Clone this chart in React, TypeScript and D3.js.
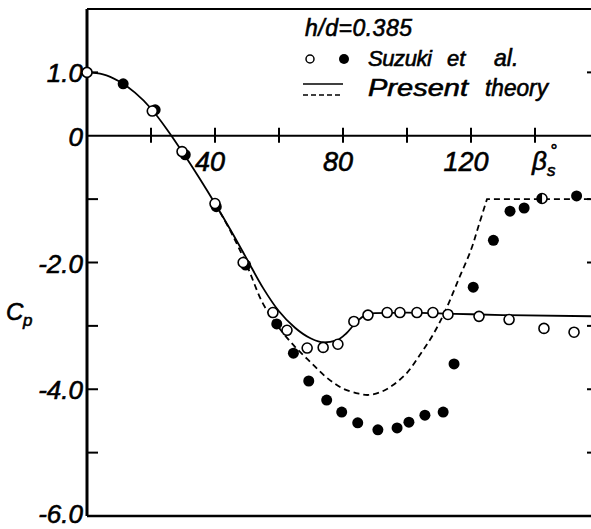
import React from "react";
import * as d3 from "d3";

const openPts: [number, number][] = [
  [0, 1.0], [20.4, 0.39], [29.7, -0.25], [40, -1.07], [48.8, -2.0], [58.1, -2.79],
  [62.5, -3.07], [68.8, -3.35], [73.8, -3.34], [78.4, -3.29], [83.4, -2.93],
  [87.8, -2.83], [93.8, -2.79], [97.8, -2.79], [103.1, -2.79], [108.1, -2.79],
  [112.8, -2.82], [122.5, -2.85], [131.9, -2.9], [142.8, -3.04], [152.2, -3.1],
];
const halfPts: [number, number][] = [[142.2, -0.99]];
const filledPts: [number, number][] = [
  [11.3, 0.82], [21.3, 0.41], [30.7, -0.3], [40.4, -1.12], [49.6, -2.04], [59.3, -2.97],
  [64.5, -3.43], [69.3, -3.87], [74.9, -4.17], [79.6, -4.36], [84.6, -4.53], [90.9, -4.64],
  [96.9, -4.61], [100.6, -4.52], [105.6, -4.41], [111.3, -4.36], [114.7, -3.6],
  [120.7, -2.39], [127, -1.65], [132.2, -1.19], [136.6, -1.14], [153, -0.95],
];
const theorySolid: [number, number][] = [
  [0, 1.0], [5, 0.97], [10, 0.86], [15, 0.68], [20, 0.43], [25, 0.1], [30, -0.27],
  [35, -0.66], [40, -1.07], [45, -1.5], [50, -1.95], [55, -2.4], [60, -2.77], [65, -3.03],
  [70, -3.2], [74, -3.26], [78, -3.23], [81, -3.12], [84, -2.95], [87, -2.83], [90, -2.8],
  [100, -2.79], [115, -2.81], [130, -2.83], [160, -2.85],
];
const theoryDashedCurve: [number, number][] = [
  [40, -1.07], [45, -1.52], [50, -2.05], [55, -2.65], [60, -3.03], [65, -3.33], [70, -3.58],
  [75, -3.82], [80, -3.99], [85, -4.07], [88, -4.09], [92, -4.04], [96, -3.92], [100, -3.74],
  [104, -3.46], [108, -3.15], [112, -2.76], [116, -2.28], [120, -1.8], [122.5, -1.4], [125, -1.0],
];
const theoryDashedFlat: [number, number][] = [[125, -1.0], [160, -1.0]];

const xTicks = [20, 40, 60, 80, 100, 120, 140, 160];
const xLabels: [number, string][] = [[40, "40"], [80, "80"], [120, "120"]];
const yTicks = [1, -1, -2, -3, -4, -5];
const yLabels: [number, string][] = [[1, "1.0"], [0, "0"], [-2, "-2.0"], [-4, "-4.0"], [-6, "-6.0"]];

export default function App() {
  const W = 591, H = 529;
  const x = d3.scaleLinear().domain([0, 160]).range([87, 599]);
  const y = d3.scaleLinear().domain([-6, 2]).range([516, 9]);
  const font = "'Liberation Sans', Arial, sans-serif";
  const lineS = d3.line<[number, number]>().x(d => x(d[0])).y(d => y(d[1])).curve(d3.curveMonotoneX);
  const lineC = d3.line<[number, number]>().x(d => x(d[0])).y(d => y(d[1])).curve(d3.curveCatmullRom);
  const lineL = d3.line<[number, number]>().x(d => x(d[0])).y(d => y(d[1]));
  const txt = { stroke: "#000", strokeWidth: 0.6 };
  return (
    <svg width={W} height={H} style={{ position: "absolute", left: 0, top: 0, background: "#fff" }}
      fontFamily={font} fontStyle="italic">
      <rect x={0} y={0} width={W} height={H} fill="#fff" />
      {/* frame */}
      <line x1={x(0)} x2={x(160)} y1={y(2)} y2={y(2)} stroke="#000" strokeWidth={2} />
      <line x1={x(0)} x2={x(160)} y1={y(-6)} y2={y(-6)} stroke="#000" strokeWidth={2.5} />
      <line x1={x(0)} x2={x(0)} y1={y(2)} y2={y(-6)} stroke="#000" strokeWidth={3} />
      <line x1={x(160)} x2={x(160)} y1={y(2)} y2={y(-6)} stroke="#000" strokeWidth={2.5} />
      {/* x axis at 0 */}
      <line x1={x(0)} x2={x(160)} y1={y(0)} y2={y(0)} stroke="#000" strokeWidth={2} />
      {xTicks.map(t => (
        <line key={"xt" + t} x1={x(t)} x2={x(t)} y1={y(0) - 8} y2={y(0) + 7} stroke="#000" strokeWidth={2} />
      ))}
      {yTicks.map(t => (
        <g key={"yt" + t}>
          <line x1={x(0)} x2={x(0) + 11} y1={y(t)} y2={y(t)} stroke="#000" strokeWidth={2} />
          <line x1={x(160)} x2={x(160) - 12} y1={y(t)} y2={y(t)} stroke="#000" strokeWidth={2} />
        </g>
      ))}
      {xLabels.map(([v, s]) => (
        <text key={"xl" + v} x={x(v) - 5} y={171} fontSize={27} textAnchor="middle" {...txt}>{s}</text>
      ))}
      <text x={x(140) - 3} y={170} fontSize={26} {...txt}>β</text>
      <text x={x(140) + 12} y={176} fontSize={17} {...txt}>s</text>
      <text x={x(140) + 15} y={156} fontSize={17} {...txt}>°</text>
      {yLabels.map(([v, s]) => (
        <text key={"yl" + v} x={83} y={Math.min(y(v) + 1, H - 15)} fontSize={26} textAnchor="end" dominantBaseline="central" {...txt}>{s}</text>
      ))}
      <text x={6} y={320} fontSize={24} {...txt}>C</text>
      <text x={23} y={326} fontSize={17} {...txt}>p</text>
      {/* theory curves */}
      <path d={lineS(theorySolid) || ""} fill="none" stroke="#000" strokeWidth={1.8} />
      <path d={(lineC(theoryDashedCurve) || "") + (lineL(theoryDashedFlat) || "").replace(/^M/, "L")}
        fill="none" stroke="#000" strokeWidth={1.8} strokeDasharray="6,4" />
      {/* data */}
      {filledPts.map((p, i) => (
        <circle key={"f" + i} cx={x(p[0])} cy={y(p[1])} r={5.5} fill="#000" />
      ))}
      {halfPts.map((p, i) => (
        <g key={"h" + i}>
          <circle cx={x(p[0])} cy={y(p[1])} r={5} fill="#fff" stroke="#000" strokeWidth={1.6} />
          <path d={`M${x(p[0])},${y(p[1]) - 5} A5,5 0 0 0 ${x(p[0])},${y(p[1]) + 5} Z`} fill="#000" />
        </g>
      ))}
      {openPts.map((p, i) => (
        <circle key={"o" + i} cx={x(p[0])} cy={y(p[1])} r={5} fill="#fff" stroke="#000" strokeWidth={1.6} />
      ))}
      {/* legend */}
      <text x={305} y={36} fontSize={23} textLength={107} lengthAdjust="spacing" {...txt}>h/d=0.385</text>
      <circle cx={310} cy={59} r={4} fill="#fff" stroke="#000" strokeWidth={1.5} />
      <circle cx={344} cy={59} r={5} fill="#000" />
      <text x={368} y={66} fontSize={22} textLength={64} lengthAdjust="spacing" {...txt}>Suzuki</text>
      <text x={447} y={66} fontSize={22} {...txt}>et</text>
      <text x={494} y={66} fontSize={23} {...txt}>al.</text>
      <line x1={303} x2={343} y1={84} y2={84} stroke="#000" strokeWidth={1.5} />
      <line x1={303} x2={343} y1={95} y2={95} stroke="#000" strokeWidth={1.5} strokeDasharray="5,3" />
      <text x={368} y={96} fontSize={24} textLength={100} lengthAdjust="spacingAndGlyphs" {...txt}>Present</text>
      <text x={485} y={96} fontSize={24} textLength={63} lengthAdjust="spacingAndGlyphs" {...txt}>theory</text>
    </svg>
  );
}
